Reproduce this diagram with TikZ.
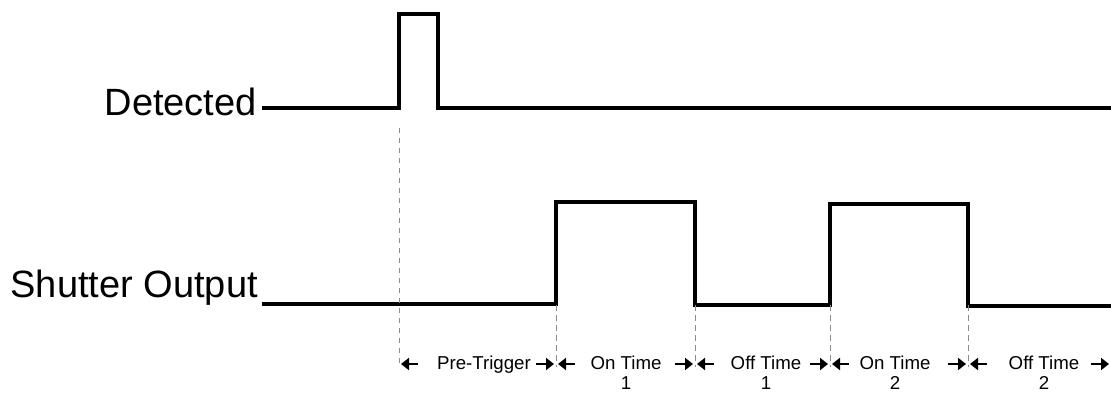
\documentclass[tikz,border=0pt]{standalone}
\usepackage{fontspec}
\setmainfont{Liberation Sans}
\usetikzlibrary{arrows.meta,positioning}
\tikzset{x=0.75pt,y=-0.75pt,
  signal/.style={line width=2.7pt,line join=miter},
  guide/.style={black!45,line width=0.6pt,dash pattern=on 4pt off 3.5pt},
  span/.style={line width=2pt,-{Triangle[length=6pt,width=9pt]}},
  signame/.style={font=\fontsize{28.5}{30}\selectfont,anchor=base east,inner sep=0pt},
  spanlabel/.style={font=\fontsize{14}{15}\selectfont,align=center,anchor=north,inner sep=0pt}}

\begin{document}
\begin{tikzpicture}
    \useasboundingbox (0,0) rectangle (1111,393);
    % signal names
    \node[signame] (det) at (257,115) {Detected};
    \node[signame] (shut) at (258,297) {Shutter Output};
    % traces
    \draw[signal] (262,108) -- (399,108) -- (399,14) -- (438,14) -- (438,108) -- (1112,108);
    \draw[signal] (262,304) -- (556,304) -- (556,202) -- (695,202) -- (695,305)
        -- (830,305) -- (830,204) -- (968,204) -- (968,306) -- (1112,306);
    % time marks
    \coordinate (t0) at (399,364);
    \coordinate (t1) at (556,364);
    \coordinate (t2) at (695,364);
    \coordinate (t3) at (830,364);
    \coordinate (t4) at (968,364);
    \coordinate (t5) at (1111,364);
    \draw[guide] (399,128) -- ([yshift=-2pt]t0);
    \foreach \t in {t1,t2,t3,t4}
        \draw[guide] ([yshift=44pt]\t) -- ([yshift=-2pt]\t);
    \foreach \a/\b in {t0/t1,t1/t2,t2/t3,t3/t4,t4/t5} {
        \draw[span] ([xshift=14pt]\a) -- ([xshift=1.5pt]\a);
        \draw[span] ([xshift=-15pt]\b) -- ([xshift=-1.5pt]\b);
    }
    % interval labels
    \node[spanlabel] (pre) at (484,356) {Pre-Trigger};
    \node[spanlabel] (on1) at (626,356) {On Time\\1};
    \node[spanlabel] (off1) at (766,356) {Off Time\\1};
    \node[spanlabel] (on2) at (895,356) {On Time\\2};
    \node[spanlabel] (off2) at (1044,356) {Off Time\\2};
\end{tikzpicture}
\end{document}
